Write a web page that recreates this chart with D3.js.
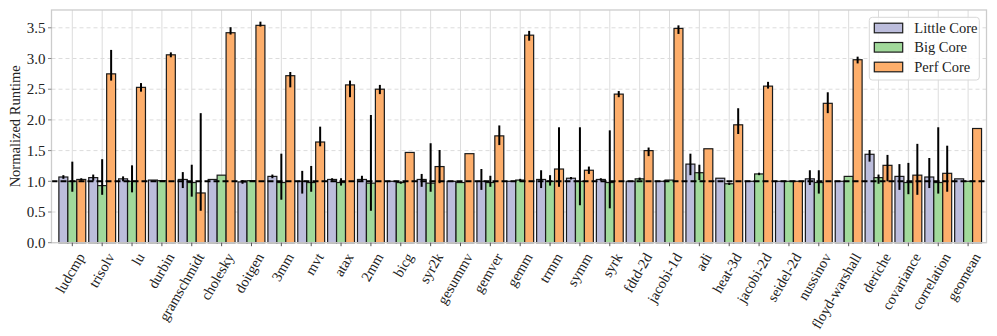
<!DOCTYPE html>
<html>
<head>
<meta charset="utf-8">
<script src="https://cdn.jsdelivr.net/npm/d3@7"></script>
<style>
  html, body { margin: 0; padding: 0; background: #fff; }
  svg { display: block; }
  text { font-family: "Liberation Serif", "Times New Roman", serif; fill: #222; }
</style>
</head>
<body>
<svg id="chart" width="997" height="336"></svg>
<script>
const categories = ["ludcmp","trisolv","lu","durbin","gramschmidt","cholesky","doitgen","3mm","mvt","atax","2mm","bicg","syr2k","gesummv","gemver","gemm","trmm","symm","syrk","fdtd-2d","jacobi-1d","adi","heat-3d","jacobi-2d","seidel-2d","nussinov","floyd-warshall","deriche","covariance","correlation","geomean"];

const little   = [1.07,1.06,1.04,1.02,1.03,1.03,0.99,1.08,1.00,1.03,1.03,1.00,1.03,1.00,1.00,1.00,1.03,1.05,1.03,1.00,1.00,1.28,1.05,1.00,1.00,1.04,1.00,1.44,1.08,1.07,1.04];
const littleLo = [1.04,1.01,1.00,1.02,0.89,1.03,0.96,1.05,0.80,1.01,0.99,1.00,0.91,1.00,0.86,1.00,0.89,1.03,1.01,1.00,1.00,1.10,1.05,1.00,1.00,0.94,1.00,1.32,0.86,0.89,1.04];
const littleHi = [1.10,1.11,1.08,1.02,1.15,1.03,1.02,1.11,1.17,1.05,1.09,1.00,1.12,1.00,1.20,1.00,1.18,1.07,1.05,1.00,1.00,1.45,1.05,1.00,1.00,1.18,1.00,1.51,1.28,1.38,1.04];

const big   = [1.00,0.93,1.00,1.01,0.98,1.10,1.01,0.98,0.98,0.98,0.97,0.98,0.97,0.98,0.98,1.02,1.00,1.00,0.98,1.04,1.02,1.14,0.96,1.12,1.00,0.98,1.08,1.06,0.98,0.98,1.00];
const bigLo = [0.83,0.78,0.82,1.01,0.75,1.10,1.01,0.70,0.83,0.93,0.52,0.96,0.83,0.98,0.91,1.00,0.93,0.61,0.56,1.02,1.02,1.02,0.94,1.10,1.00,0.80,1.08,0.96,0.79,0.80,1.00];
const bigHi = [1.32,1.36,1.26,1.01,1.27,1.10,1.01,1.45,1.25,1.05,2.08,1.00,1.62,0.98,1.09,1.04,1.10,1.88,1.83,1.06,1.02,1.27,0.98,1.14,1.00,1.18,1.08,1.11,1.30,1.88,1.00];

const perf   = [1.03,2.75,2.53,3.06,0.81,3.42,3.54,2.72,1.64,2.57,2.50,1.47,1.24,1.45,1.74,3.38,1.20,1.18,2.42,1.50,3.49,1.53,1.92,2.55,1.00,2.27,2.98,1.26,1.10,1.13,1.86];
const perfLo = [1.01,2.64,2.46,3.02,0.52,3.39,3.52,2.53,1.57,2.37,2.42,1.47,0.97,1.45,1.59,3.29,0.91,1.12,2.37,1.41,3.40,1.53,1.77,2.51,1.00,2.11,2.92,1.00,0.78,0.83,1.86];
const perfHi = [1.05,3.14,2.60,3.10,2.11,3.51,3.60,2.78,1.89,2.64,2.57,1.47,1.51,1.45,1.91,3.45,1.88,1.24,2.47,1.55,3.54,1.53,2.19,2.62,1.00,2.45,3.03,1.43,1.61,1.58,1.86];

const seriesNames = ["Little Core","Big Core","Perf Core"];
const seriesColors = ["#bcbddc","#a1d99b","#fdae6b"];
const yTicks = [0,0.5,1.0,1.5,2.0,2.5,3.0,3.5];
const yLabel = "Normalized Runtime";
const baseline = 1.0;

const series = [
  {name: seriesNames[0], color: seriesColors[0], v: little, lo: littleLo, hi: littleHi, off: -1},
  {name: seriesNames[1], color: seriesColors[1], v: big, lo: bigLo, hi: bigHi, off: 0},
  {name: seriesNames[2], color: seriesColors[2], v: perf, lo: perfLo, hi: perfHi, off: 1}
];

const svg = d3.select("#chart");
const L = 51.5, R = 986.5, T = 10, B = 242.7;
const barW = 0.3;

const x = d3.scaleLinear().domain([-0.697, categories.length - 1 + 0.616]).range([L, R]);
const y = d3.scaleLinear().domain([0, 3.79]).range([B, T]);

// grid
const g = svg.append("g");
g.selectAll("line.hg").data(yTicks).join("line")
  .attr("x1", L).attr("x2", R).attr("y1", d => y(d)).attr("y2", d => y(d))
  .attr("stroke", "#dcdcdc").attr("stroke-width", 1).attr("stroke-dasharray", "4,3");
g.selectAll("line.vg").data(categories).join("line")
  .attr("x1", (d,i) => x(i)).attr("x2", (d,i) => x(i)).attr("y1", T).attr("y2", B)
  .attr("stroke", "#dcdcdc").attr("stroke-width", 1);

// bars
series.forEach(s => {
  svg.append("g").selectAll("rect").data(s.v).join("rect")
    .attr("x", (d,i) => x(i + s.off*barW - barW/2))
    .attr("width", x(barW) - x(0))
    .attr("y", d => y(d))
    .attr("height", d => y(0) - y(d))
    .attr("fill", s.color).attr("stroke", "#1a1a1a").attr("stroke-width", 1.2);
});

// error bars
series.forEach(s => {
  svg.append("g").selectAll("line").data(s.v).join("line")
    .attr("x1", (d,i) => x(i + s.off*barW)).attr("x2", (d,i) => x(i + s.off*barW))
    .attr("y1", (d,i) => y(s.lo[i])).attr("y2", (d,i) => y(s.hi[i]))
    .attr("stroke", "#000").attr("stroke-width", 2)
    .attr("display", (d,i) => s.hi[i] - s.lo[i] > 0.001 ? null : "none");
});

// baseline dashed line
svg.append("line").attr("x1", L).attr("x2", R).attr("y1", y(baseline)).attr("y2", y(baseline))
  .attr("stroke", "#000").attr("stroke-width", 2).attr("stroke-dasharray", "6,3");

// spines
svg.append("rect").attr("x", L).attr("y", T).attr("width", R - L).attr("height", B - T)
  .attr("fill", "none").attr("stroke", "#cccccc").attr("stroke-width", 1.3);

// y axis ticks & labels
const ya = svg.append("g");
ya.selectAll("line").data(yTicks).join("line")
  .attr("x1", L - 3.5).attr("x2", L).attr("y1", d => y(d)).attr("y2", d => y(d))
  .attr("stroke", "#888").attr("stroke-width", 1);
ya.selectAll("text").data(yTicks).join("text")
  .attr("x", L - 6).attr("y", d => y(d)).attr("dy", "0.35em")
  .attr("text-anchor", "end").attr("font-size", 15)
  .text(d => d.toFixed(1));

svg.append("text").attr("transform", `translate(15,${(T + B) / 2}) rotate(-90)`)
  .attr("text-anchor", "middle").attr("dy", "0.35em").attr("font-size", 14.5)
  .text(yLabel);

// x axis ticks & labels
const xa = svg.append("g");
xa.selectAll("line").data(categories).join("line")
  .attr("x1", (d,i) => x(i)).attr("x2", (d,i) => x(i)).attr("y1", B).attr("y2", B + 3.5)
  .attr("stroke", "#555").attr("stroke-width", 1);
xa.selectAll("text").data(categories).join("text")
  .attr("transform", (d,i) => `translate(${x(i) + 13},${B + 14}) rotate(-60)`)
  .attr("text-anchor", "end").attr("font-size", 14.5)
  .text(d => d);

// legend
const lg = svg.append("g");
lg.append("rect").attr("x", 869.3).attr("y", 17.3).attr("width", 110).attr("height", 62.7)
  .attr("rx", 3).attr("fill", "#fff").attr("fill-opacity", 0.85)
  .attr("stroke", "#d8d8d8").attr("stroke-width", 1);
const rowY = [28, 47.3, 67];
series.forEach((s, k) => {
  lg.append("rect").attr("x", 874.3).attr("y", rowY[k] - 4.8).attr("width", 28.4).attr("height", 9.6)
    .attr("fill", s.color).attr("stroke", "#1a1a1a").attr("stroke-width", 1.2);
  lg.append("text").attr("x", 914.3).attr("y", rowY[k]).attr("dy", "0.35em")
    .attr("font-size", 14.5).text(s.name);
});
</script>
</body>
</html>
